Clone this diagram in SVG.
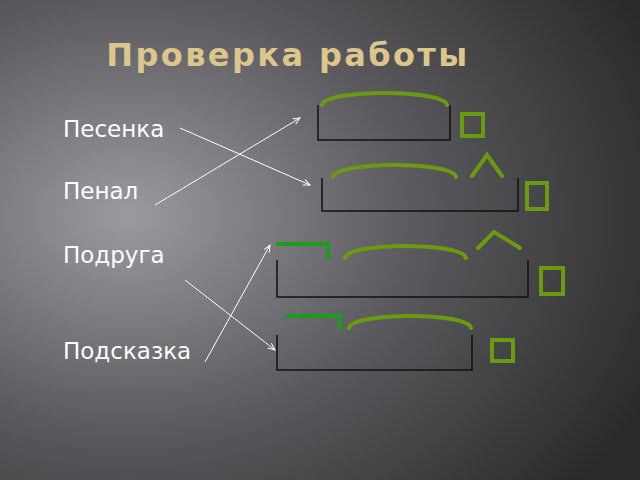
<svg xmlns="http://www.w3.org/2000/svg" width="640" height="480" viewBox="0 0 640 480">
<defs>
<radialGradient id="bg" cx="0.2" cy="0.45" r="0.9">
<stop offset="0" stop-color="#9a9aa0"/><stop offset="0.5" stop-color="#5a5a5e"/><stop offset="1" stop-color="#2a2a2c"/>
</radialGradient>
<marker id="ar" markerWidth="8" markerHeight="8" refX="7" refY="4" orient="auto" markerUnits="userSpaceOnUse"><path d="M0,1 L7,4 L0,7" fill="none" stroke="#fff" stroke-width="1"/></marker>
<style>
.w{font-family:"DejaVu Sans",sans-serif;font-size:23px;fill:#fff}
.b{fill:none;stroke:#111;stroke-width:1.5}
.g{fill:none;stroke:#6a9a10;stroke-width:4;stroke-linecap:round}
.p{fill:none;stroke:#1f9a1f;stroke-width:4}
.sq{fill:none;stroke:#6a9a10;stroke-width:4}
.c{stroke:#fff;stroke-width:1;marker-end:url(#ar)}
</style>
</defs>
<rect width="640" height="480" fill="url(#bg)"/>
<text x="288" y="66" text-anchor="middle" font-family="DejaVu Sans,sans-serif" font-weight="bold" font-size="32" letter-spacing="2.4" fill="#dcc68c">Проверка работы</text>
<g id="words">
<text class="w" x="63" y="137">Песенка</text>
<text class="w" x="63" y="199">Пенал</text>
<text class="w" x="63" y="263">Подруга</text>
<text class="w" x="63" y="359">Подсказка</text>
</g>
<g id="scheme1">
<path class="b" d="M318,105 V140 H450 V105"/>
<path class="g" d="M322,105 C325,89 444,89 447,105"/>
<rect class="sq" x="462" y="114" width="21" height="22"/>
</g>
<g id="scheme2">
<path class="b" d="M322,178 V211 H518 V178"/>
<path class="g" d="M333,177 C336,161 453,161 456,177"/>
<path class="g" d="M472,176 L487,155 L502,176"/>
<rect class="sq" x="527" y="183" width="20" height="26"/>
</g>
<g id="scheme3">
<path class="b" d="M277,260 V297 H528 V260"/>
<path class="p" d="M276,244 H328 V260"/>
<path class="g" d="M345,258 C348,242 463,242 466,258"/>
<path class="g" d="M478,248 L494,232 L520,248"/>
<rect class="sq" x="541" y="268" width="22" height="26"/>
</g>
<g id="scheme4">
<path class="b" d="M277,335 V370 H472 V335"/>
<path class="p" d="M286,316 H340 V330"/>
<path class="g" d="M349,328 C352,312 468,312 471,328"/>
<rect class="sq" x="492" y="340" width="21" height="21"/>
</g>
<g id="connectors">
<line class="c" x1="180" y1="128" x2="310" y2="185"/>
<line class="c" x1="155" y1="205" x2="300" y2="118"/>
<line class="c" x1="185" y1="280" x2="275" y2="350"/>
<line class="c" x1="205" y1="362" x2="270" y2="245"/>
</g>
</svg>
